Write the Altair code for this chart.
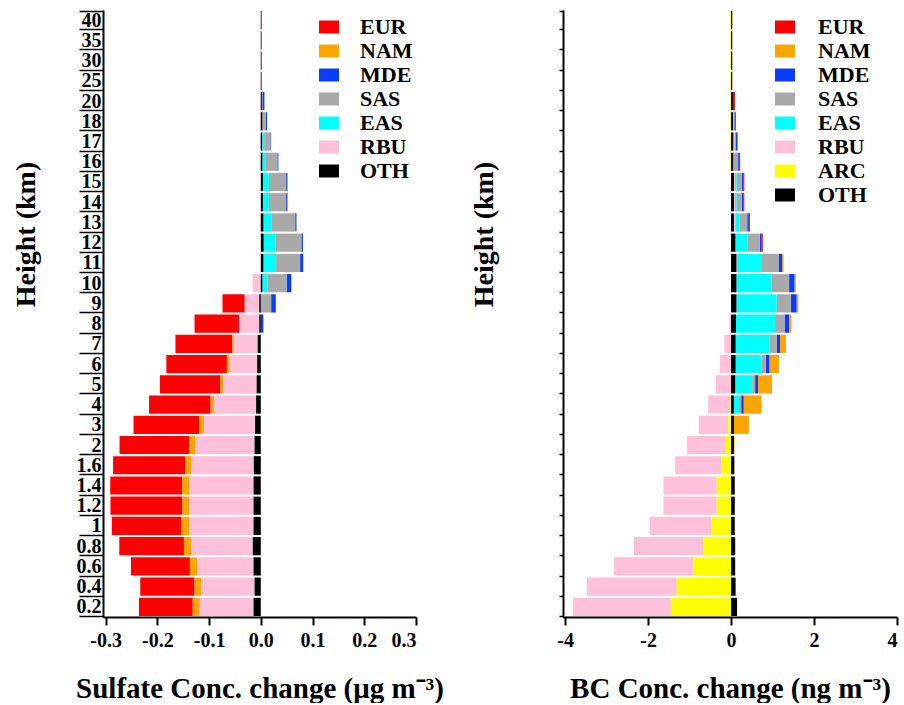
import altair as alt
import pandas as pd

# Heights (km), bottom to top
heights = ["0.2", "0.4", "0.6", "0.8", "1", "1.2", "1.4", "1.6", "2", "3", "4", "5", "6", "7",
           "8", "9", "10", "11", "12", "13", "14", "15", "16", "17", "18", "20", "25", "30", "35", "40"]

# Sulfate concentration change (ug m-3) by source region, bottom to top
sulf_EUR = [-0.104, -0.105, -0.114, -0.125, -0.135, -0.139, -0.139, -0.139, -0.135, -0.127, -0.119, -0.117, -0.117, -0.110,
            -0.086, -0.043, 0, 0, 0, 0, 0, 0, 0, 0, 0, 0, 0, 0, 0, 0]
sulf_NAM = [-0.0135, -0.013, -0.014, -0.014, -0.015, -0.0135, -0.014, -0.012, -0.012, -0.009, -0.007, -0.005, -0.0045, -0.003,
            0, 0, 0, 0, 0, 0, 0, 0, 0, 0, 0, 0, 0, 0, 0, 0]
sulf_MDE = [0, 0, 0, 0, 0, 0, 0, 0, 0, 0, 0, 0, 0, 0,
            0.005, 0.009, 0.009, 0.006, 0.003, 0.0025, 0.0025, 0.0025, 0.002, 0.0015, 0.002, 0.004, 0, 0, 0, 0]
sulf_SAS = [0, 0, 0, 0, 0, 0, 0, 0, 0, 0, 0, 0, 0, 0,
            0, 0.020, 0.037, 0.0465, 0.050, 0.045, 0.0335, 0.0335, 0.022, 0.012, 0.007, 0.001, 0, 0, 0, 0]
sulf_EAS = [0, 0, 0, 0, 0, 0, 0, 0, 0, 0, 0, 0, 0, 0,
            0, 0, 0.010, 0.0245, 0.023, 0.0165, 0.0115, 0.0115, 0.007, 0.004, 0, 0, 0, 0, 0, 0]
sulf_RBU = [-0.104, -0.103, -0.109, -0.119, -0.124, -0.124, -0.124, -0.121, -0.114, -0.099, -0.081, -0.065, -0.054, -0.046,
            -0.039, -0.028, -0.016, 0, 0, -0.001, 0, 0, -0.002, -0.002, -0.002, -0.001, -0.001, -0.001, -0.001, -0.001]
sulf_OTH = [-0.014, -0.012, -0.014, -0.0155, -0.014, -0.014, -0.014, -0.0135, -0.012, -0.011, -0.009, -0.008, -0.007, -0.006,
            -0.003, -0.003, 0.003, 0.005, 0.0055, 0.005, 0.004, 0.004, 0.003, 0.0025, 0.003, 0.002, 0.0015, 0.0015, 0.0015, 0.0015]

# BC concentration change (ng m-3) by source region, bottom to top
bc_EUR = [0, 0, 0, 0, 0, 0, 0, 0, 0, 0, 0, 0, 0, 0,
          0, 0, 0, 0, 0.025, 0.025, 0.025, 0.025, 0.01, 0.01, 0.02, 0.045, 0, 0, 0, 0]
bc_NAM = [0, 0, 0, 0, 0, 0, 0, 0, 0.015, 0.36, 0.43, 0.34, 0.23, 0.145,
          0.056, 0.045, 0.03, 0.035, 0, 0, 0, 0, 0, 0, 0, 0, 0, 0, 0, 0]
bc_MDE = [0, 0, 0, 0, 0, 0, 0, 0, 0, 0, 0.06, 0.07, 0.09, 0.08,
          0.11, 0.14, 0.13, 0.085, 0.045, 0.04, 0.04, 0.04, 0.04, 0.03, 0.02, 0, 0, 0, 0, 0]
bc_SAS = [0, 0, 0, 0, 0, 0, 0, 0, 0, 0, 0.055, 0.07, 0.105, 0.18,
          0.23, 0.34, 0.42, 0.42, 0.30, 0.19, 0.12, 0.12, 0.10, 0.04, 0.01, 0, 0, 0, 0, 0]
bc_EAS = [0, 0, 0, 0, 0, 0, 0, 0, 0, 0, 0.12, 0.41, 0.62, 0.81,
          0.94, 0.97, 0.85, 0.58, 0.29, 0.10, 0.04, 0.04, 0, 0, 0, 0, 0, 0, 0, 0]
bc_RBU = [-2.36, -2.16, -1.905, -1.68, -1.48, -1.285, -1.285, -1.11, -0.915, -0.715, -0.53, -0.37, -0.265, -0.16,
          -0.04, 0, 0, 0.015, 0, 0.03, 0.025, 0.025, 0.015, 0.025, 0.02, 0, 0, 0, 0, 0]
bc_ARC = [-1.45, -1.31, -0.915, -0.66, -0.48, -0.345, -0.345, -0.235, -0.145, -0.065, -0.02, 0, 0, 0,
          0, 0, 0, 0, 0, 0, 0, 0, -0.02, -0.02, -0.02, -0.02, -0.02, -0.02, -0.02, -0.02]
bc_OTH = [0.145, 0.11, 0.10, 0.10, 0.09, 0.09, 0.09, 0.08, 0.07, 0.07, 0.07, 0.10, 0.11, 0.11,
          0.12, 0.13, 0.13, 0.13, 0.105, 0.07, 0.07, 0.07, 0.055, 0.055, 0.05, 0.05, 0.03, 0.03, 0.03, 0.03]

regions_sulf = ["EUR", "NAM", "MDE", "SAS", "EAS", "RBU", "OTH"]
regions_bc = ["EUR", "NAM", "MDE", "SAS", "EAS", "RBU", "ARC", "OTH"]
region_colors = {"EUR": "#FF0000", "NAM": "#FFA500", "MDE": "#0A3CFF", "SAS": "#A9A9A9",
                 "EAS": "#00FFFF", "RBU": "#FFC0D9", "ARC": "#FFFF00", "OTH": "#000000"}
stack_order = ["OTH", "ARC", "RBU", "EAS", "SAS", "MDE", "NAM", "EUR"]

sulf_values = {"EUR": sulf_EUR, "NAM": sulf_NAM, "MDE": sulf_MDE, "SAS": sulf_SAS,
               "EAS": sulf_EAS, "RBU": sulf_RBU, "OTH": sulf_OTH}
bc_values = {"EUR": bc_EUR, "NAM": bc_NAM, "MDE": bc_MDE, "SAS": bc_SAS,
             "EAS": bc_EAS, "RBU": bc_RBU, "ARC": bc_ARC, "OTH": bc_OTH}


def build(values, regions):
    rows = []
    for r in regions:
        for h, v in zip(heights, values[r]):
            if v != 0:
                rows.append({"height": h, "region": r, "value": v, "ord": stack_order.index(r)})
    return pd.DataFrame(rows)


FONT = "Liberation Serif"
RECT = "M-1,-0.65L1,-0.65L1,0.65L-1,0.65Z"


def panel(df, regions, domain, ticks, fmt, xtitle, width, show_labels, lx, ly, loff):
    common_title = dict(title="Height (km)", titleFont=FONT, titleFontSize=28, titleFontWeight="bold",
                        titleColor="black", titleY=224, titleAlign="center",
                        titleBaseline="bottom", titleAngle=270)
    if show_labels:
        y_axis = alt.Axis(labels=True, tickBand="extent", tickSize=24, tickWidth=1.5,
                          labelPadding=-22, labelFont=FONT, labelFontSize=20, labelFontWeight="bold",
                          labelColor="black", labelOverlap=False, domainWidth=2, domainColor="black",
                          tickColor="black", titleX=-63, **common_title)
    else:
        y_axis = alt.Axis(labels=False, tickBand="extent", tickSize=4, tickWidth=1.5,
                          domainWidth=2, domainColor="black", tickColor="black",
                          titleX=-65, **common_title)
    x_axis = alt.Axis(values=ticks, format=fmt, title=xtitle, tickSize=8, tickWidth=2, tickColor="black",
                      domainWidth=2, domainColor="black", labelFont=FONT, labelFontSize=20,
                      labelFontWeight="bold", labelColor="black", labelPadding=5, grid=False,
                      labelExpr="replace(datum.label, '\u2212', '-')",
                      titleFont=FONT, titleFontSize=29, titleFontWeight="bold", titleColor="black",
                      titlePadding=24)
    legend = alt.Legend(title=None, orient="none", legendX=lx, legendY=ly, symbolType=RECT,
                        symbolSize=400, symbolStrokeWidth=0, symbolOpacity=1, labelFont=FONT,
                        labelFontSize=22, labelFontWeight="bold", labelColor="black",
                        labelOffset=loff, rowPadding=2, padding=0)
    return alt.Chart(df).mark_bar().encode(
        x=alt.X("value:Q", stack="zero",
                scale=alt.Scale(domain=domain, nice=False, zero=False), axis=x_axis),
        y=alt.Y("height:N", sort=heights[::-1],
                scale=alt.Scale(paddingInner=0.1, paddingOuter=0.05), axis=y_axis),
        color=alt.Color("region:N", scale=alt.Scale(domain=regions, range=[region_colors[r] for r in regions]),
                        legend=legend),
        order=alt.Order("ord:Q", sort="ascending"),
    ).properties(width=width, height=607)


left = panel(build(sulf_values, regions_sulf), regions_sulf, [-0.305, 0.3],
             [-0.3, -0.2, -0.1, 0.0, 0.1, 0.2, 0.3], ".1f",
             "Sulfate Conc. change (μg m⁻³)", 313, True, 215, 6, 20)
right = panel(build(bc_values, regions_bc), regions_bc, [-4.05, 4.0],
              [-4, -2, 0, 2, 4], "d",
              "BC Conc. change (ng m⁻³)", 334, False, 211, 6, 22)

chart = alt.hconcat(left, right, spacing=147, bounds="flush").resolve_scale(
    color="independent"
).properties(
    padding={"left": 12, "top": 0, "right": 2, "bottom": 0},
    background="white",
).configure_view(stroke=None)

chart.save("out.html", embed_options={"renderer": "svg", "actions": False})
